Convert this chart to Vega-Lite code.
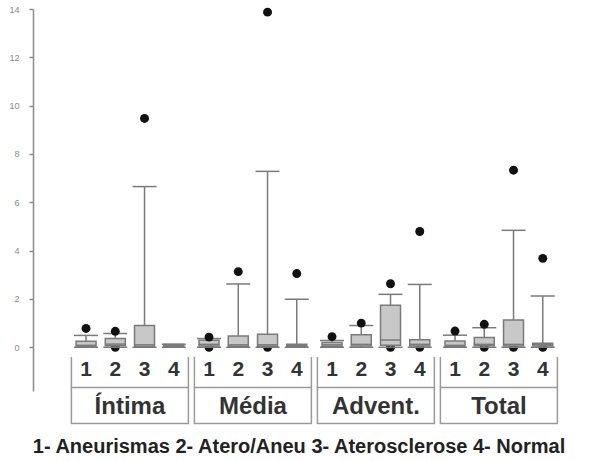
{
  "$schema": "https://vega.github.io/schema/vega-lite/v6.json",
  "width": 540,
  "height": 382,
  "padding": {"left": 8, "top": 5, "right": 5, "bottom": 3},
  "background": "white",
  "config": {
    "view": {"stroke": null},
    "font": "Liberation Sans",
    "axisY": {"grid": false, "title": null, "values": [0, 2, 4, 6, 8, 10, 12, 14], "domainColor": "#8a8a8a", "domainWidth": 1.5, "tickColor": "#8a8a8a", "tickWidth": 1.5, "tickSize": 4, "labelColor": "#8a8a8a", "labelFontSize": 9, "labelPadding": 10, "labelFont": "Liberation Sans"}
  },
  "title": {"text": "1- Aneurismas 2- Atero/Aneu 3- Aterosclerose 4- Normal", "orient": "bottom", "fontSize": 20, "fontWeight": "bold", "color": "#222222", "font": "Liberation Sans", "offset": 13, "dx": -4},
  "datasets": {
    "boxes": [
      {"group": "Íntima", "cat": 1, "lower": 0, "q1": 0.03, "median": 0.08, "q3": 0.25, "upper": 0.49},
      {"group": "Íntima", "cat": 2, "lower": 0, "q1": 0.06, "median": 0.13, "q3": 0.36, "upper": 0.57},
      {"group": "Íntima", "cat": 3, "lower": 0, "q1": 0.03, "median": 0.1, "q3": 0.9, "upper": 6.65},
      {"group": "Íntima", "cat": 4, "lower": 0, "q1": 0.03, "median": 0.06, "q3": 0.12, "upper": 0.12},
      {"group": "Média", "cat": 1, "lower": 0, "q1": 0.05, "median": 0.12, "q3": 0.29, "upper": 0.36},
      {"group": "Média", "cat": 2, "lower": 0, "q1": 0.04, "median": 0.1, "q3": 0.47, "upper": 2.62},
      {"group": "Média", "cat": 3, "lower": 0, "q1": 0.04, "median": 0.1, "q3": 0.54, "upper": 7.28},
      {"group": "Média", "cat": 4, "lower": 0, "q1": 0.03, "median": 0.06, "q3": 0.12, "upper": 1.99},
      {"group": "Advent.", "cat": 1, "lower": 0, "q1": 0.04, "median": 0.1, "q3": 0.2, "upper": 0.28},
      {"group": "Advent.", "cat": 2, "lower": 0, "q1": 0.05, "median": 0.12, "q3": 0.52, "upper": 0.9},
      {"group": "Advent.", "cat": 3, "lower": 0, "q1": 0.08, "median": 0.3, "q3": 1.74, "upper": 2.19},
      {"group": "Advent.", "cat": 4, "lower": 0, "q1": 0.05, "median": 0.12, "q3": 0.31, "upper": 2.6},
      {"group": "Total", "cat": 1, "lower": 0, "q1": 0.03, "median": 0.08, "q3": 0.26, "upper": 0.5},
      {"group": "Total", "cat": 2, "lower": 0, "q1": 0.06, "median": 0.12, "q3": 0.4, "upper": 0.81},
      {"group": "Total", "cat": 3, "lower": 0, "q1": 0.05, "median": 0.12, "q3": 1.13, "upper": 4.84},
      {"group": "Total", "cat": 4, "lower": 0, "q1": 0.05, "median": 0.1, "q3": 0.17, "upper": 2.12}
    ],
    "outliers": [
      {"group": "Íntima", "cat": 1, "value": 0.78},
      {"group": "Íntima", "cat": 2, "value": 0.66},
      {"group": "Íntima", "cat": 2, "value": 0},
      {"group": "Íntima", "cat": 3, "value": 9.47},
      {"group": "Média", "cat": 1, "value": 0.42},
      {"group": "Média", "cat": 1, "value": 0},
      {"group": "Média", "cat": 2, "value": 3.13},
      {"group": "Média", "cat": 3, "value": 13.87},
      {"group": "Média", "cat": 3, "value": 0},
      {"group": "Média", "cat": 4, "value": 3.05},
      {"group": "Advent.", "cat": 1, "value": 0.44},
      {"group": "Advent.", "cat": 2, "value": 1.0},
      {"group": "Advent.", "cat": 3, "value": 2.63},
      {"group": "Advent.", "cat": 3, "value": 0},
      {"group": "Advent.", "cat": 4, "value": 4.79},
      {"group": "Advent.", "cat": 4, "value": 0},
      {"group": "Total", "cat": 1, "value": 0.67},
      {"group": "Total", "cat": 2, "value": 0.95},
      {"group": "Total", "cat": 2, "value": 0},
      {"group": "Total", "cat": 3, "value": 7.33},
      {"group": "Total", "cat": 3, "value": 0},
      {"group": "Total", "cat": 4, "value": 3.68},
      {"group": "Total", "cat": 4, "value": 0}
    ],
    "groups": [
      {"group": "Íntima"},
      {"group": "Média"},
      {"group": "Advent."},
      {"group": "Total"}
    ]
  },
  "layer": [
    {
      "data": {"name": "outliers"},
      "transform": [{"filter": "datum.value < 0.1"}],
      "mark": {"type": "point", "filled": true, "color": "#111111", "size": 80, "opacity": 1},
      "encoding": {
        "x": {"field": "group", "type": "nominal", "axis": null, "scale": {"domain": ["Íntima", "Média", "Advent.", "Total"], "paddingInner": 0.0488, "paddingOuter": 0.2196, "align": 0.711}},
        "xOffset": {"field": "cat", "type": "ordinal", "scale": {"domain": [1, 2, 3, 4], "paddingInner": 0, "paddingOuter": 0}},
        "y": {"field": "value", "type": "quantitative", "scale": {"domain": [-1.81, 14], "nice": false, "zero": false}}
      }
    },
    {
      "data": {"name": "boxes"},
      "mark": {"type": "rule", "color": "#7a7a7a", "strokeWidth": 1.5},
      "encoding": {
        "x": {"field": "group", "type": "nominal", "axis": null},
        "xOffset": {"field": "cat", "type": "ordinal"},
        "y": {"field": "lower", "type": "quantitative"},
        "y2": {"field": "upper"}
      }
    },
    {
      "data": {"name": "boxes"},
      "mark": {"type": "bar", "width": 20, "fill": "#c8c8c8", "stroke": "#7a7a7a", "strokeWidth": 1.5},
      "encoding": {
        "x": {"field": "group", "type": "nominal", "axis": null},
        "xOffset": {"field": "cat", "type": "ordinal"},
        "y": {"field": "q1", "type": "quantitative"},
        "y2": {"field": "q3"}
      }
    },
    {
      "data": {"name": "boxes"},
      "mark": {"type": "tick", "size": 20, "thickness": 1.5, "color": "#7a7a7a", "opacity": 1},
      "encoding": {
        "x": {"field": "group", "type": "nominal", "axis": null},
        "xOffset": {"field": "cat", "type": "ordinal"},
        "y": {"field": "median", "type": "quantitative"}
      }
    },
    {
      "data": {"name": "boxes"},
      "mark": {"type": "tick", "size": 24, "thickness": 1.5, "color": "#7a7a7a", "opacity": 1},
      "encoding": {
        "x": {"field": "group", "type": "nominal", "axis": null},
        "xOffset": {"field": "cat", "type": "ordinal"},
        "y": {"field": "upper", "type": "quantitative"}
      }
    },
    {
      "data": {"name": "boxes"},
      "mark": {"type": "tick", "size": 24, "thickness": 1.5, "color": "#7a7a7a", "opacity": 1},
      "encoding": {
        "x": {"field": "group", "type": "nominal", "axis": null},
        "xOffset": {"field": "cat", "type": "ordinal"},
        "y": {"field": "lower", "type": "quantitative"}
      }
    },
    {
      "data": {"name": "outliers"},
      "transform": [{"filter": "datum.value >= 0.1"}],
      "mark": {"type": "point", "filled": true, "color": "#111111", "size": 80, "opacity": 1},
      "encoding": {
        "x": {"field": "group", "type": "nominal", "axis": null},
        "xOffset": {"field": "cat", "type": "ordinal"},
        "y": {"field": "value", "type": "quantitative"}
      }
    },
    {
      "data": {"name": "boxes"},
      "mark": {"type": "text", "fontSize": 21, "fontWeight": "bold", "color": "#333333", "baseline": "middle", "align": "center"},
      "encoding": {
        "x": {"field": "group", "type": "nominal", "axis": null},
        "xOffset": {"field": "cat", "type": "ordinal"},
        "y": {"datum": -0.95},
        "text": {"field": "cat", "type": "ordinal"}
      }
    },
    {
      "data": {"name": "groups"},
      "mark": {"type": "rect", "fill": "transparent", "stroke": "#9a9a9a", "strokeWidth": 1.5},
      "encoding": {
        "x": {"field": "group", "type": "nominal", "axis": null},
        "y": {"datum": -1.66},
        "y2": {"datum": -3.16}
      }
    },
    {
      "data": {"name": "groups"},
      "mark": {"type": "rule", "color": "#9a9a9a", "strokeWidth": 1.5},
      "encoding": {
        "x": {"field": "group", "type": "nominal", "axis": null, "bandPosition": 0},
        "y": {"datum": -0.4},
        "y2": {"datum": -1.66}
      }
    },
    {
      "data": {"name": "groups"},
      "mark": {"type": "rule", "color": "#9a9a9a", "strokeWidth": 1.5},
      "encoding": {
        "x": {"field": "group", "type": "nominal", "axis": null, "bandPosition": 1},
        "y": {"datum": -0.4},
        "y2": {"datum": -1.66}
      }
    },
    {
      "data": {"name": "groups"},
      "mark": {"type": "text", "fontSize": 24, "fontWeight": "bold", "color": "#333333", "baseline": "middle", "align": "center"},
      "encoding": {
        "x": {"field": "group", "type": "nominal", "axis": null},
        "y": {"datum": -2.48},
        "text": {"field": "group", "type": "nominal"}
      }
    }
  ]
}
